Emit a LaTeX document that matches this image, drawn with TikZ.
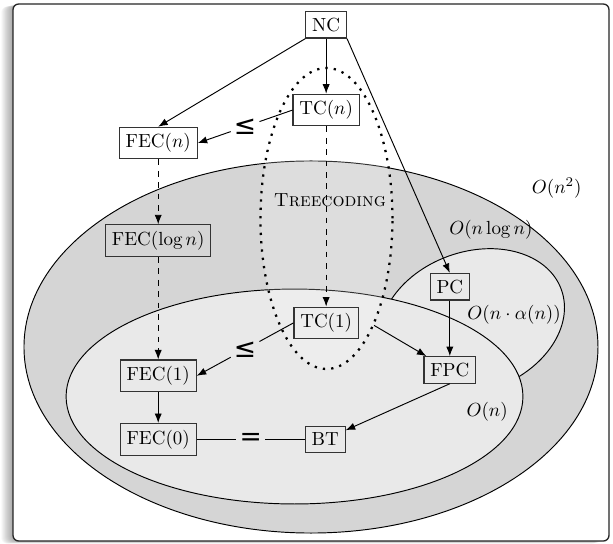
\documentclass[tikz,border=0pt]{standalone}
\usepackage{amsmath,amssymb}
\usepackage{fontspec}
\newfontfamily\relfont{DejaVu Sans}
\usepackage{tikz}
\usetikzlibrary{shapes.geometric, arrows.meta, positioning}

\definecolor{outerfill}{gray}{0.835}
\definecolor{innerfill}{gray}{0.915}

\begin{document}
\begin{tikzpicture}[
    node distance=1cm,
    cls/.style={rectangle, draw=black!80, line width=0.6pt},
    region/.style={ellipse, draw, line width=0.5pt, inner sep=0pt},
    arr/.style={-{Latex[length=5pt, width=3.8pt]}, line width=0.5pt},
    dasharr/.style={arr, dashed},
    rel/.style={font=\relfont\fontsize{14}{14}\selectfont, inner sep=1.5pt},
]
\useasboundingbox (0,0) rectangle (11.352,-10.074);

% frame with soft shadow
\foreach \i in {1,...,12}
  \fill[black, opacity=0.03, rounded corners=3pt]
    ({0.241-\i*0.018},{-0.074-\i*0.004}) rectangle ({11.278-\i*0.018},{-10.019-\i*0.004});
\draw[black!85, line width=0.7pt, fill=white, rounded corners=3pt]
    (0.241,-0.074) rectangle (11.278,-10.019);

% complexity classes
\node[region, fill=outerfill, minimum width=10.63cm, minimum height=6.89cm]
    (on2set) at (5.759,-6.426) {};
\node[region, fill=innerfill, minimum width=3.52cm, minimum height=2.59cm, rotate=20]
    (nlogset) at (8.741,-5.963) {};
\node[region, fill=innerfill, minimum width=8.46cm, minimum height=3.98cm]
    (onset) at (5.454,-7.343) {};
\node[region, line width=1.2pt, dash pattern=on 1.2pt off 3.2pt,
      fill=white, fill opacity=0.2, minimum width=2.444cm, minimum height=5.574cm]
    (tcset) at (6.046,-4.046) {};

\node (on2)    at (10.31,-3.48) {$O(n^2)$};
\node (onlog)  at (9.09,-4.26)  {$O(n\log n)$};
\node (onalph) at (9.52,-5.83)  {$O(n\cdot\alpha(n))$};
\node (on)     at (9.02,-7.63)  {$O(n)$};
\node (tclabel) at (6.11,-3.70) {\textsc{Treecoding}};

% problems
\node[cls] (nc) at (6.04,-0.46) {NC};
\node[cls, below=1.02cm of nc] (tcn) {TC$(n)$};
\node[cls] (fecn) at (2.93,-2.65) {FEC$(n)$};
\node[cls, below=1.2cm of fecn] (feclog) {FEC$(\log n)$};
\node[cls] (fec1) at (2.93,-6.96) {FEC$(1)$};
\node[cls, below=0.57cm of fec1] (fec0) {FEC$(0)$};
\node[cls] (tc1) at (6.04,-5.98) {TC$(1)$};
\node[cls] (pc) at (8.33,-5.31) {PC};
\node[cls, below=1.03cm of pc] (fpc) {FPC};
\node[cls, right=2cm of fec0] (bt) {BT};

\path (tcn.west) -- node[rel] (le1) {≤} (fecn.east);
\path (tc1.west) -- node[rel] (le2) {≤} (fec1.east);
\path (fec0.east) -- node[rel] (eq) {=} (bt.west);

% reductions
\draw[arr] (nc.south west) -- (fecn.north);
\draw[arr] (nc) -- (tcn);
\draw[arr] (nc.south east) -- (pc.north);
\draw[dasharr] (tcn) -- (tc1);
\draw[dasharr] (fecn) -- (feclog);
\draw[dasharr] (feclog) -- (fec1);
\draw[arr] (fec1) -- (fec0);
\draw[arr] (pc) -- (fpc);
\draw[arr] (tcset.-66) -- (fpc);
\draw[arr] (fpc.south) -- (bt);

\draw[line width=0.5pt] (tcn.west) -- (le1);
\draw[arr] (le1) -- (fecn.east);
\draw[line width=0.5pt] (tc1.west) -- (le2);
\draw[arr] (le2) -- (fec1.east);
\draw[line width=0.5pt] (fec0) -- (eq) -- (bt);
\end{tikzpicture}
\end{document}
